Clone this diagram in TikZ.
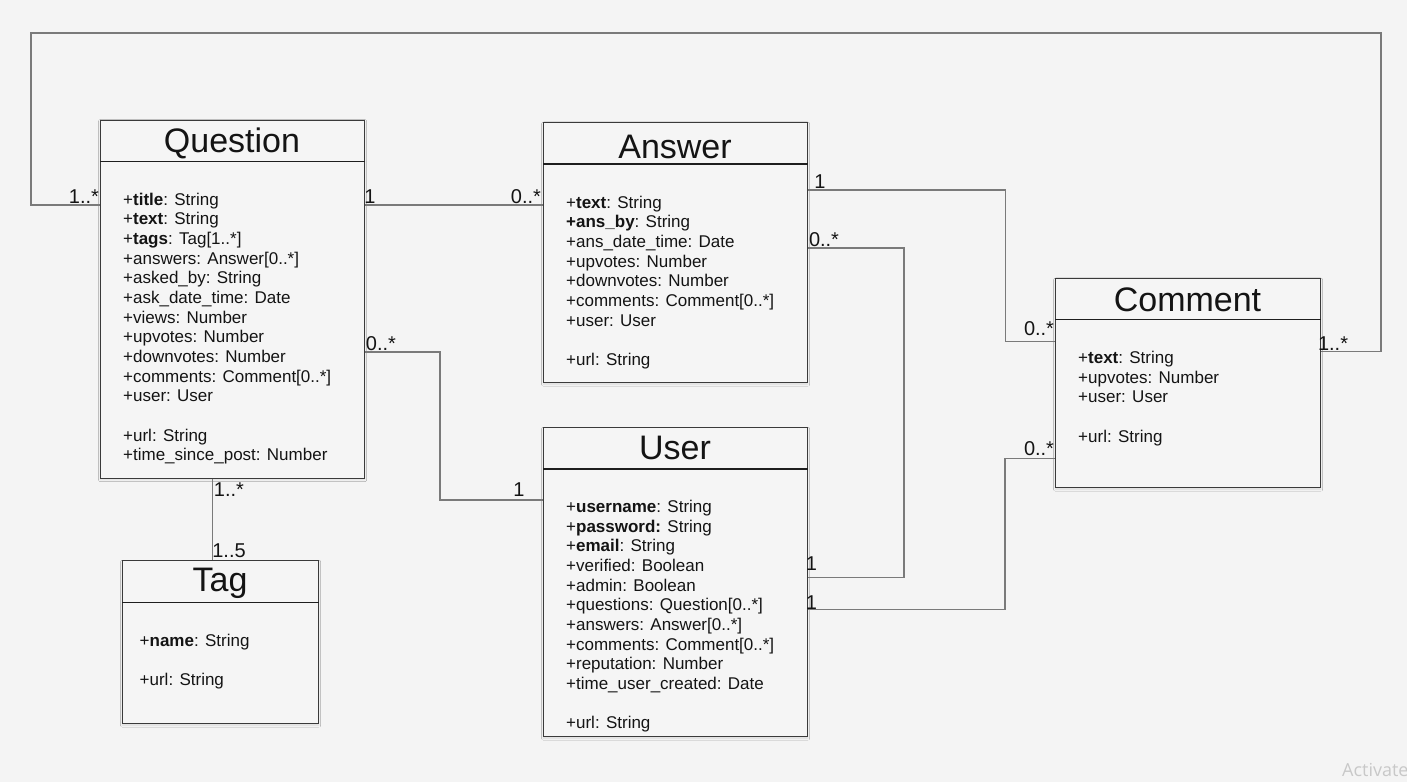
\documentclass[tikz,border=0pt]{standalone}
\usepackage{fontspec}
\setmainfont{Liberation Sans}
\newfontfamily\wmfont{Open Sans}
\usetikzlibrary{shadows.blur}
\definecolor{bg}{HTML}{F4F4F4}
\definecolor{boxfill}{HTML}{F5F5F5}
\definecolor{boxline}{HTML}{3A3A3A}
\definecolor{divline}{HTML}{1E1E1E}
\definecolor{connline}{HTML}{7A7A7A}
\definecolor{ink}{HTML}{141414}
\definecolor{wm}{HTML}{C8C8C8}
\newcommand{\attrlist}[1]{\vtop{\baselineskip=19.67pt\lineskiplimit=-100pt\lineskip=0pt\halign{##\hfil\cr#1\crcr}}}
\begin{document}
\begin{tikzpicture}[x=1pt,y=-1pt,
  umlbox/.style={draw=boxline, line width=1.2pt, fill=boxfill, inner sep=0pt, anchor=north west,
    blur shadow={shadow xshift=0pt, shadow yshift=-1.5pt, shadow blur steps=4, shadow opacity=10}},
  divider/.style={draw=divline, line width=1.5pt},
  umltitle/.style={anchor=base, inner sep=0pt, font=\fontsize{34}{40}\selectfont, text=ink},
  attrs/.style={anchor=base west, inner sep=0pt, font=\fontsize{17}{19.67}\selectfont, text=ink},
  conn/.style={draw=connline, line width=1.4pt},
  mult/.style={anchor=base, inner sep=0pt, font=\fontsize{20}{22}\selectfont, text=ink}]
\useasboundingbox[fill=bg] (0,0) rectangle (1407,782);

% boxes
\node[umlbox, minimum width=264pt, minimum height=358pt] (Q) at (100,119.5) {};
\node[umlbox, minimum width=264pt, minimum height=260pt] (A) at (543,122) {};
\node[umlbox, minimum width=264pt, minimum height=309pt] (U) at (543,427) {};
\node[umlbox, minimum width=265pt, minimum height=209pt] (C) at (1055,278) {};
\node[umlbox, minimum width=196pt, minimum height=163pt] (T) at (122,560) {};

% dividers
\draw[divider] (Q.west |- 0,161.5) -- (Q.east |- 0,161.5);
\draw[divider] (A.west |- 0,164) -- (A.east |- 0,164);
\draw[divider] (U.west |- 0,469) -- (U.east |- 0,469);
\draw[divider] (C.west |- 0,319.5) -- (C.east |- 0,319.5);
\draw[divider] (T.west |- 0,602.5) -- (T.east |- 0,602.5);

% titles
\node[umltitle] (Qt) at (232,152) {Question};
\node[umltitle] (At) at (675,158) {Answer};
\node[umltitle] (Ut) at (675,459) {User};
\node[umltitle] (Ct) at (1187.5,311.5) {Comment};
\node[umltitle] (Tt) at (220,591.5) {Tag};

% attributes
\node[attrs] (Qa) at (123,205) {\attrlist{%
+\textbf{title}: String\cr
+\textbf{text}: String\cr
+\textbf{tags}: Tag[1..*]\cr
+answers: Answer[0..*]\cr
+asked\_by: String\cr
+ask\_date\_time: Date\cr
+views: Number\cr
+upvotes: Number\cr
+downvotes: Number\cr
+comments: Comment[0..*]\cr
+user: User\cr
\cr
+url: String\cr
+time\_since\_post: Number}};

\node[attrs] (Aa) at (566,208) {\attrlist{%
+\textbf{text}: String\cr
\textbf{+ans\_by}: String\cr
+ans\_date\_time: Date\cr
+upvotes: Number\cr
+downvotes: Number\cr
+comments: Comment[0..*]\cr
+user: User\cr
\cr
+url: String}};

\node[attrs] (Ca) at (1078,363.5) {\attrlist{%
+\textbf{text}: String\cr
+upvotes: Number\cr
+user: User\cr
\cr
+url: String}};

\node[attrs] (Ua) at (566,512.5) {\attrlist{%
+\textbf{username}: String\cr
+\textbf{password:} String\cr
+\textbf{email}: String\cr
+verified: Boolean\cr
+admin: Boolean\cr
+questions: Question[0..*]\cr
+answers: Answer[0..*]\cr
+comments: Comment[0..*]\cr
+reputation: Number\cr
+time\_user\_created: Date\cr
\cr
+url: String}};

\node[attrs] (Ta) at (139.5,646.5) {\attrlist{%
+\textbf{name}: String\cr
\cr
+url: String}};

% connectors
\draw[conn] (Q.west |- 0,205) -- (31,205) -- (31,33) -- (1381,33) -- (1381,351.5) -- (C.east |- 0,351.5);
\draw[conn] (Q.east |- 0,205) -- (A.west |- 0,205);
\draw[conn] (Q.east |- 0,352) -- (440,352) -- (440,500) -- (U.west |- 0,500);
\draw[conn] (Q.south -| 212.5,0) -- (T.north -| 212.5,0);
\draw[conn] (A.east |- 0,190) -- (1005.5,190) -- (1005.5,341.5) -- (C.west |- 0,341.5);
\draw[conn] (A.east |- 0,248) -- (904,248) -- (904,577.5) -- (U.east |- 0,577.5);
\draw[conn] (U.east |- 0,609.5) -- (1005,609.5) -- (1005,458.5) -- (C.west |- 0,458.5);

% multiplicities
\node[mult] (m1) at (84,203) {1..*};
\node[mult] (m2) at (370,203) {1};
\node[mult] (m3) at (526,203) {0..*};
\node[mult] (m4) at (381,350) {0..*};
\node[mult] (m5) at (519,496.5) {1};
\node[mult] (m6) at (229,496) {1..*};
\node[mult] (m7) at (229,557) {1..5};
\node[mult] (m8) at (820,188) {1};
\node[mult] (m9) at (824,246) {0..*};
\node[mult] (m10) at (1039,335) {0..*};
\node[mult] (m11) at (1333,350) {1..*};
\node[mult] (m12) at (1039,455) {0..*};
\node[mult] (m13) at (811.5,570) {1};
\node[mult] (m14) at (811.5,609) {1};

% watermark
\node[anchor=base west, inner sep=0pt, font=\wmfont\fontsize{18}{20}\selectfont, text=wm] (wmark) at (1342,776) {Activate};
\end{tikzpicture}
\end{document}
